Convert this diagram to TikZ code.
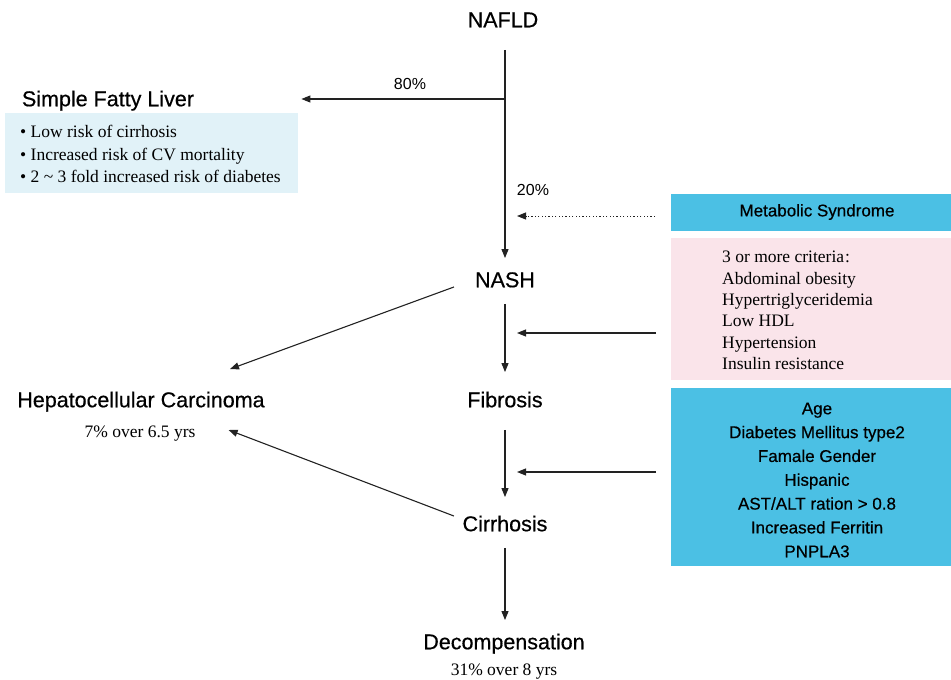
\documentclass[tikz,border=0pt]{standalone}
\usepackage{fontspec}
\setmainfont{Liberation Serif}
\newfontfamily\hv[FakeBold=0.5]{Liberation Sans}
\newfontfamily\hvr{Liberation Sans}
\usetikzlibrary{arrows.meta}
\definecolor{lightbox}{HTML}{E1F2F8}
\definecolor{cyanbox}{HTML}{4BC0E4}
\definecolor{pinkbox}{HTML}{FAE4EA}
\definecolor{linec}{HTML}{222222}
\begin{document}
\begin{tikzpicture}[x=1pt,y=-1pt,
  head/.style={font=\hv\fontsize{21.5}{25}\selectfont, inner sep=0pt, text height=15pt, text depth=4.5pt},
  serif/.style={font=\fontsize{17.5}{22}\selectfont, inner sep=0pt},
  pct/.style={font=\hvr\fontsize{16}{19}\selectfont, inner sep=0pt},
  conn/.style={line width=1.1pt, draw=linec},
  arr/.style={conn, -{Triangle[length=9pt,width=7pt]}},
  dotarr/.style={line width=1pt, draw=linec, dash pattern=on 1.2pt off 2.2pt, -{Triangle[length=9pt,width=7pt]}},
  boxfill/.style={draw=none, inner sep=0pt, anchor=north west}]

\useasboundingbox (0,0) rectangle (951,680);

% boxes
\node[boxfill, fill=lightbox, minimum width=293pt, minimum height=80pt] (sflbox) at (5,113) {};
\node[boxfill, fill=cyanbox, minimum width=280pt, minimum height=37pt] (metab) at (671,194) {};
\node[boxfill, fill=pinkbox, minimum width=280pt, minimum height=142pt] (crit) at (671,238) {};
\node[boxfill, fill=cyanbox, minimum width=280pt, minimum height=178pt] (risk) at (671,388) {};

% main labels
\node[head] (nafld) at (503,22) {NAFLD};
\node[head] (sfl) at (108,101) {Simple Fatty Liver};
\node[head] (nash) at (505,282) {NASH};
\node[head] (hcc) at (141,402) {Hepatocellular Carcinoma};
\node[head] (fib) at (505,402) {Fibrosis};
\node[head] (cirr) at (505,526) {Cirrhosis};
\node[head] (dec) at (504,644) {Decompensation};
\node[serif] (hccpct) at (140,434) {7\% over 6.5 yrs};
\node[serif] (decpct) at (504,672) {31\% over 8 yrs};
\node[pct] (p80) at (410,84) {80\%};
\node[pct] (p20) at (533,190) {20\%};

% box texts
\node[serif, anchor=north west, align=left, font=\fontsize{17.5}{22.5}\selectfont] (sfltext) at (20,125)
  {• Low risk of cirrhosis\\• Increased risk of CV mortality\\• 2 \textasciitilde{} 3 fold increased risk of diabetes};
\node[pct, font=\hv\fontsize{17}{20}\selectfont] (metabtext) at (817,212) {Metabolic Syndrome};
\node[serif, anchor=north west, align=left, font=\fontsize{17.5}{21.4}\selectfont] (crittext) at (722,251)
  {3 or more criteria\kern1pt:\\Abdominal obesity\\Hypertriglyceridemia\\Low HDL\\Hypertension\\Insulin resistance};
\node[pct, align=center, font=\hv\fontsize{17}{23.83}\selectfont] (risktext) at (817,480)
  {Age\\Diabetes Mellitus type2\\Famale Gender\\Hispanic\\AST/ALT ration > 0.8\\Increased Ferritin\\PNPLA3};

% connectors
\coordinate (split) at (505,99);
\draw[conn, shorten <=18pt] (split |- nafld.south) -- (split);
\draw[arr, shorten >=14pt] (split) -- (nash);
\draw[arr, shorten >=3pt] (split) -- (split -| sflbox.east);

\coordinate (dotend) at (517,216);
\draw[dotarr, shorten <=16pt] (metab.west |- dotend) -- (dotend);
\coordinate (critend) at (517,333);
\draw[arr, shorten <=15pt] (crit.west |- critend) -- (critend);
\coordinate (riskend) at (517,472);
\draw[arr, shorten <=15pt] (risk.west |- riskend) -- (riskend);

\draw[arr, shorten <=12pt, shorten >=20pt] (nash) -- (fib);
\draw[arr, shorten <=18pt, shorten >=19pt] (fib) -- (cirr);
\draw[arr, shorten <=12pt, shorten >=14pt] (cirr) -- (cirr |- dec.north);

\draw[arr] ([shift={(-21,5)}]nash.west) -- ([shift={(89,-23)}]hcc.north);
\draw[arr] ([shift={(-8.5,-10)}]cirr.west) -- ([shift={(33,-4)}]hccpct.east);
\end{tikzpicture}
\end{document}
